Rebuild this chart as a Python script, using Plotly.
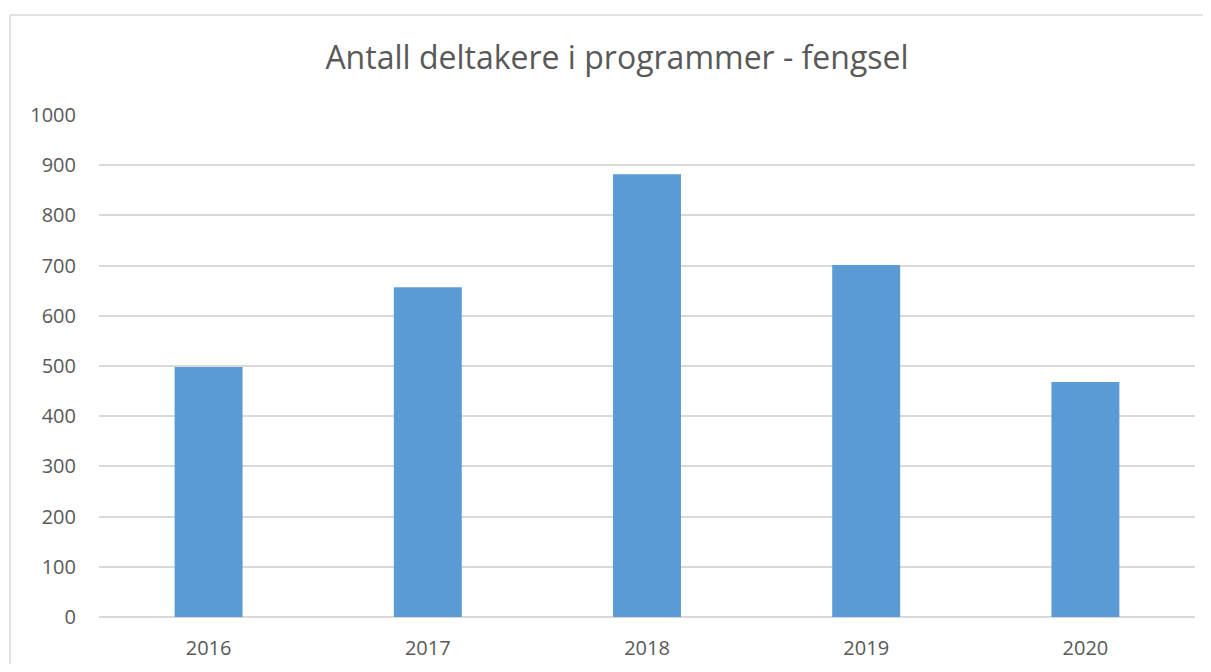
import plotly.graph_objects as go

years = ["2016", "2017", "2018", "2019", "2020"]
participants = [498, 657, 882, 701, 468]
y_ticks = [0, 100, 200, 300, 400, 500, 600, 700, 800, 900, 1000]
title_text = "Antall deltakere i programmer - fengsel"

# page body has an 8px margin on every side; size the figure to fit inside it
OFF = 8
W, H = 1211 - 2 * OFF, 672 - 2 * OFF
L, R, T, B = 99 - OFF, 16 - OFF, 115 - OFF, 54.5 - OFF
pw = W - L - R
ph = H - T - B

fig = go.Figure()
fig.add_trace(go.Bar(
    x=years, y=participants,
    marker=dict(color="#5b9bd5", line=dict(width=0)),
    hoverinfo="x+y",
))

bx0 = (10 - OFF - L) / pw
bx1 = (W + 40 - L) / pw
by_top = (H - B - (15 - OFF)) / ph
by_bot = (H - B - (H + 40)) / ph

fig.update_layout(
    width=W, height=H,
    margin=dict(l=L, r=R, t=T, b=B, pad=0, autoexpand=False),
    paper_bgcolor="white", plot_bgcolor="white",
    bargap=0.69,
    showlegend=False,
    font=dict(family="Open Sans, sans-serif", color="#595959", size=20),
    title=dict(
        text=title_text,
        x=(617 - OFF) / W, xref="container", xanchor="center",
        y=1 - (58 - OFF) / H, yref="container", yanchor="middle",
        font=dict(size=32, color="#595959", family="Open Sans, sans-serif"),
    ),
    xaxis=dict(
        automargin=False,
        showgrid=False, showline=False, zeroline=False,
        ticks="", ticklabelstandoff=17,
        tickfont=dict(size=20, color="#595959"),
    ),
    yaxis=dict(
        automargin=False,
        range=[0, 1000], tickvals=y_ticks,
        showgrid=True, gridcolor="#d9d9d9", gridwidth=1.5,
        zeroline=True, zerolinecolor="#d9d9d9", zerolinewidth=1.5,
        showline=False, ticks="", ticklabelstandoff=22,
        tickfont=dict(size=20, color="#595959"),
    ),
    shapes=[
        dict(type="line", xref="paper", yref="paper",
             x0=bx0, x1=bx1, y0=by_top, y1=by_top,
             line=dict(color="#d9d9d9", width=1.5), layer="below"),
        dict(type="line", xref="paper", yref="paper",
             x0=bx0, x1=bx0, y0=by_top, y1=by_bot,
             line=dict(color="#d9d9d9", width=1.5), layer="below"),
    ],
)

fig.write_html("out.html")
